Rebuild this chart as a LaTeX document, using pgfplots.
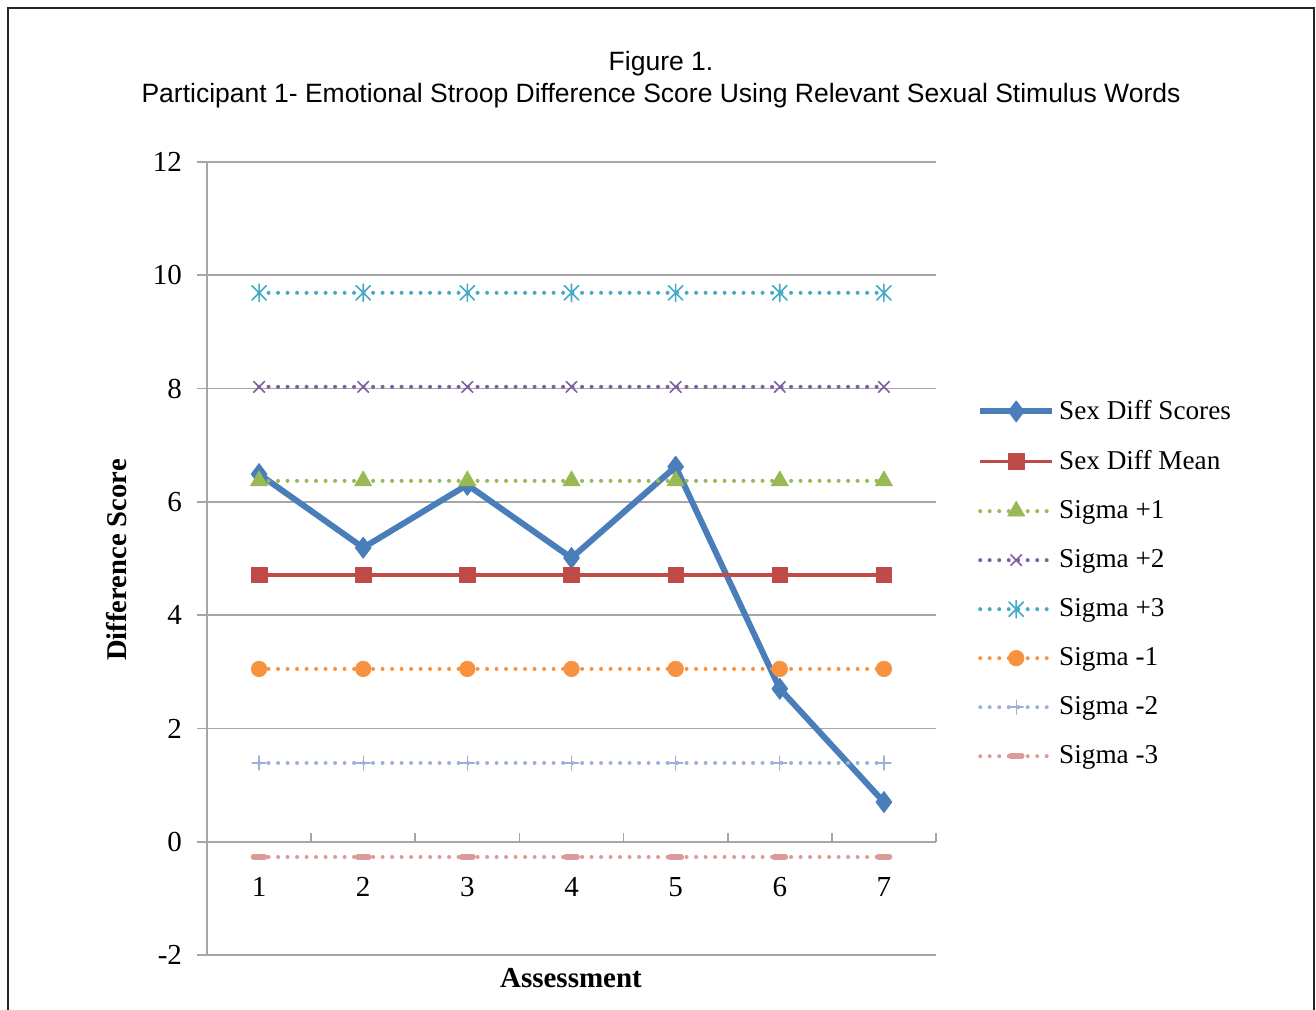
\documentclass[border=0pt]{standalone}
\usepackage{pgfplots}
\pgfplotsset{compat=1.18}
\usepackage{fontspec}
\setmainfont{Liberation Serif}
\newfontfamily\titlefont{Liberation Sans}
\definecolor{cblue}{HTML}{4A7EBB}
\definecolor{cred}{HTML}{BE4B48}
\definecolor{cgreen}{HTML}{98B954}
\definecolor{cpurple}{HTML}{7D60A0}
\definecolor{ccyan}{HTML}{46AAC5}
\definecolor{corange}{HTML}{F69240}
\definecolor{clblue}{HTML}{9DB0DB}
\definecolor{cpink}{HTML}{DC9A98}
\definecolor{cgrid}{HTML}{A6A6A6}
\pgfdeclareplotmark{xstar}{%
  \pgfpathmoveto{\pgfqpoint{-\pgfplotmarksize}{-\pgfplotmarksize}}%
  \pgfpathlineto{\pgfqpoint{\pgfplotmarksize}{\pgfplotmarksize}}%
  \pgfpathmoveto{\pgfqpoint{-\pgfplotmarksize}{\pgfplotmarksize}}%
  \pgfpathlineto{\pgfqpoint{\pgfplotmarksize}{-\pgfplotmarksize}}%
  \pgfpathmoveto{\pgfqpoint{0pt}{-1.2\pgfplotmarksize}}%
  \pgfpathlineto{\pgfqpoint{0pt}{1.2\pgfplotmarksize}}%
  \pgfusepathqstroke}
\pgfplotstableread{
x scores mean sp1 sp2 sp3 sm1 sm2 sm3
1 6.49 4.71 6.37 8.03 9.69 3.05 1.39 -0.27
2 5.19 4.71 6.37 8.03 9.69 3.05 1.39 -0.27
3 6.30 4.71 6.37 8.03 9.69 3.05 1.39 -0.27
4 5.01 4.71 6.37 8.03 9.69 3.05 1.39 -0.27
5 6.62 4.71 6.37 8.03 9.69 3.05 1.39 -0.27
6 2.70 4.71 6.37 8.03 9.69 3.05 1.39 -0.27
7 0.70 4.71 6.37 8.03 9.69 3.05 1.39 -0.27
}\datatable
\begin{document}
\begin{tikzpicture}
\useasboundingbox (0pt,0pt) rectangle (658pt,505pt);
\draw[line width=1.3pt,black!85] (4pt,-3pt) -- (4pt,501pt) -- (657pt,501pt) -- (657pt,-3pt);
\node[font=\titlefont\fontsize{13.25}{15}\selectfont] at (330.5pt,473pt) {Figure 1.};
\node[font=\titlefont\fontsize{13.25}{15}\selectfont] at (330.5pt,457pt) {Participant 1- Emotional Stroop Difference Score Using Relevant Sexual Stimulus Words};
\node[rotate=90, font=\fontsize{14.3}{16}\selectfont\bfseries] at (58.5pt,225pt) {Difference Score};
\node[font=\fontsize{14.5}{16}\selectfont\bfseries] at (285.5pt,16pt) {Assessment};
\begin{axis}[
  at={(103.5pt,27.5pt)}, anchor=south west,
  scale only axis, width=364.5pt, height=396.5pt,
  xmin=0.5, xmax=7.5, ymin=-2, ymax=12,
  axis x line*=bottom, axis y line*=left,
  x axis line style={draw=none},
  y axis line style={cgrid, line width=0.9pt},
  ytick={-2,0,...,12},
  yticklabels={-2,0,2,4,6,8,10,12},
  ymajorgrids, grid style={cgrid, line width=0.9pt},
  xtick={1,...,7},
  xticklabels={1,2,3,4,5,6,7},
  xtick style={draw=none},
  ytick style={cgrid, line width=0.9pt},
  tick align=outside, major tick length=5pt,
  yticklabel style={font=\fontsize{14.5}{16}\selectfont, xshift=-4pt},
  xticklabel style={font=\fontsize{14.5}{16}\selectfont, yshift=47.5pt},
  clip=false,
  legend cell align=left,
  legend style={draw=none, fill=none, at={(rel axis cs:1.056,0.705)}, anchor=north west,
    font=\fontsize{13.6}{15}\selectfont, row sep=10pt, inner sep=0pt},
  legend image code/.code={\draw[mark repeat=2,mark phase=2,#1] plot coordinates {(0pt,0pt) (18pt,0pt) (36pt,0pt)};},
  every axis plot/.append style={line join=round},
  dotline/.style={line width=2pt, line cap=round, dash pattern=on 0pt off 4.75pt},
]
\addplot[cblue, line width=3pt, mark=diamond*, mark size=5.2pt, mark options={solid, fill=cblue, line width=0.5pt}] table[x=x,y=scores] {\datatable};
\addlegendentry{Sex Diff Scores}
\addplot[cred, line width=1.8pt, mark=square*, mark size=3.9pt, mark options={solid, fill=cred, line width=0.3pt}] table[x=x,y=mean] {\datatable};
\addlegendentry{Sex Diff Mean}
\addplot[cgreen, dotline, mark=triangle*, mark size=5pt, mark options={solid, fill=cgreen, line width=0.3pt}] table[x=x,y=sp1] {\datatable};
\addlegendentry{Sigma +1}
\addplot[cpurple, dotline, mark=x, mark size=3.8pt, mark options={solid, line width=0.8pt}] table[x=x,y=sp2] {\datatable};
\addlegendentry{Sigma +2}
\addplot[ccyan, dotline, mark=xstar, mark size=3.6pt, mark options={solid, line width=0.8pt}] table[x=x,y=sp3] {\datatable};
\addlegendentry{Sigma +3}
\addplot[corange, dotline, mark=*, mark size=3.9pt, mark options={solid, fill=corange, line width=0.3pt}] table[x=x,y=sm1] {\datatable};
\addlegendentry{Sigma -1}
\addplot[clblue, dotline, mark=+, mark size=3.5pt, mark options={solid, line width=0.7pt}] table[x=x,y=sm2] {\datatable};
\addlegendentry{Sigma -2}
\addplot[cpink, dotline, mark=-, mark size=2.8pt, mark options={solid, line width=2.8pt, line cap=round}] table[x=x,y=sm3] {\datatable};
\addlegendentry{Sigma -3}
\draw[cgrid, line width=0.9pt] (axis cs:0.5,0) -- (axis cs:7.5,0);
\pgfplotsinvokeforeach{1.5,2.5,3.5,4.5,5.5,6.5,7.5}{
  \draw[cgrid, line width=0.9pt] (axis cs:#1,0) -- ++(0pt,4.5pt);
}
\end{axis}
\end{tikzpicture}
\end{document}
